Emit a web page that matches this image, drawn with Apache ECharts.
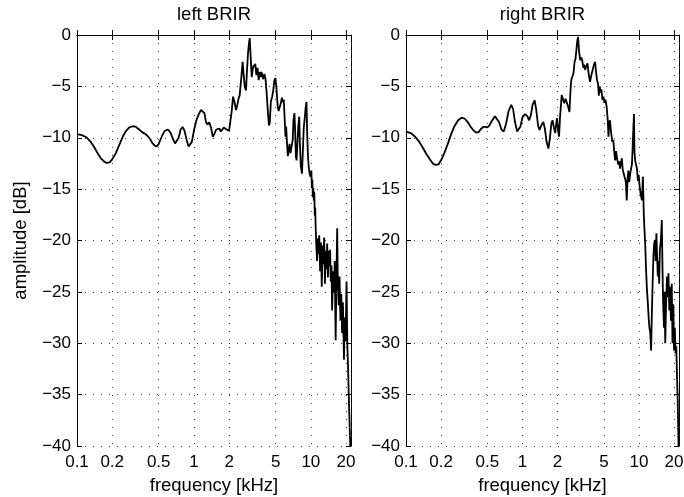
<!DOCTYPE html>
<html>
<head>
<meta charset="utf-8">
<script src="https://cdn.jsdelivr.net/npm/echarts@6/dist/echarts.min.js"></script>
<style>html,body{margin:0;padding:0;background:#fff}#c{width:684px;height:497px}</style>
</head>
<body>
<div id="c"></div>
<script>
var tickFreqs = [0.1, 0.2, 0.5, 1, 2, 5, 10, 20];
var tickLabels = ['0.1', '0.2', '0.5', '1', '2', '5', '10', '20'];
var freqMin = 0.1, freqMax = 22.05;
var dbMin = -40, dbMax = 0, dbStep = 5;
var titles = ['left BRIR', 'right BRIR'];

var leftFreq = [0.100,0.110,0.120,0.130,0.140,0.150,0.160,0.170,0.180,0.190,0.200,0.215,0.230,0.245,0.260,0.280,0.300,0.320,0.340,0.360,0.380,0.400,0.420,0.440,0.460,0.480,0.500,0.530,0.560,0.600,0.630,0.660,0.690,0.710,0.740,0.770,0.800,0.830,0.870,0.900,0.930,0.960,1.00,1.05,1.10,1.15,1.19,1.23,1.27,1.31,1.35,1.40,1.45,1.50,1.55,1.60,1.65,1.70,1.75,1.80,1.85,1.90,1.95,2.00,2.05,2.10,2.16,2.22,2.29,2.35,2.42,2.46,2.50,2.55,2.61,2.66,2.72,2.79,2.85,2.90,2.95,3.00,3.06,3.12,3.18,3.24,3.30,3.35,3.42,3.50,3.58,3.65,3.72,3.78,3.85,3.92,4.00,4.09,4.18,4.28,4.38,4.45,4.55,4.67,4.78,4.88,4.98,5.08,5.20,5.30,5.42,5.55,5.65,5.75,5.87,6.00,6.07,6.15,6.25,6.36,6.46,6.58,6.70,6.82,6.90,7.00,7.10,7.24,7.35,7.45,7.55,7.65,7.80,7.95,8.05,8.20,8.40,8.55,8.70,8.85,9.00,9.18,9.30,9.45,9.60,9.80,9.95,10.1,10.2,10.3,10.4,10.5,10.6,10.7,10.8,10.9,11.0,11.15,11.3,11.45,11.6,11.8,12.0,12.2,12.4,12.6,12.8,13.0,13.2,13.4,13.6,13.8,14.0,14.2,14.4,14.6,14.8,15.0,15.2,15.5,15.8,16.0,16.3,16.5,16.8,17.0,17.3,17.6,17.9,18.2,18.5,18.8,19.2,19.5,19.8,20.2,20.5,20.8,21.1,21.4,21.7,22.0];
var leftDb = [-9.65,-9.75,-9.95,-10.35,-10.9,-11.5,-12.0,-12.3,-12.45,-12.4,-12.1,-11.5,-10.7,-9.95,-9.4,-9.0,-8.88,-8.95,-9.2,-9.45,-9.6,-9.8,-10.1,-10.5,-10.75,-10.85,-10.6,-9.9,-9.35,-9.2,-9.5,-10.1,-10.55,-10.6,-10.0,-9.2,-8.95,-9.3,-10.3,-10.85,-10.95,-10.4,-9.3,-8.3,-7.7,-7.3,-7.2,-7.6,-8.5,-8.7,-8.5,-9.0,-9.9,-9.6,-9.2,-9.3,-9.1,-9.4,-9.2,-9.0,-8.9,-9.2,-9.1,-9.3,-9.2,-7.5,-6.0,-6.5,-7.3,-6.8,-6.1,-5.9,-5.8,-4.0,-2.6,-3.8,-5.0,-5.4,-3.2,-1.8,-0.9,-0.3,-2.2,-4.1,-3.4,-2.9,-3.1,-2.8,-3.9,-3.2,-4.4,-3.6,-4.1,-3.6,-3.5,-4.3,-3.8,-4.2,-5.5,-7.3,-8.8,-8.6,-6.5,-6.0,-5.3,-4.4,-4.2,-5.2,-6.9,-7.4,-7.3,-6.6,-6.1,-6.5,-6.3,-8.7,-9.9,-8.9,-10.5,-11.8,-11.2,-10.6,-11.5,-11.6,-11.4,-10.2,-8.3,-7.6,-9.5,-11.8,-12.2,-10.9,-9.0,-7.95,-10.4,-12.7,-13.5,-11.2,-9.0,-8.2,-7.2,-6.5,-9.5,-11.8,-12.9,-13.6,-13.8,-13.2,-14.9,-14.1,-15.8,-14.9,-16.1,-15.3,-17.6,-16.8,-18.8,-20.6,-22.0,-19.8,-21.3,-19.5,-23.0,-20.2,-24.5,-20.5,-22.3,-19.7,-24.2,-21.0,-22.8,-20.3,-23.6,-21.0,-22.5,-20.9,-24.0,-22.4,-26.8,-23.0,-25.0,-22.0,-29.7,-24.5,-18.8,-24.0,-26.3,-23.5,-27.8,-25.2,-29.0,-26.0,-31.6,-27.5,-29.8,-24.0,-30.0,-32.3,-35.0,-37.5,-39.7,-45.0];

var rightFreq = [0.100,0.110,0.120,0.130,0.140,0.150,0.160,0.170,0.180,0.190,0.200,0.215,0.230,0.245,0.260,0.280,0.300,0.320,0.340,0.360,0.380,0.400,0.420,0.440,0.460,0.480,0.500,0.520,0.550,0.580,0.600,0.630,0.660,0.690,0.720,0.760,0.800,0.830,0.860,0.900,0.920,0.960,1.00,1.05,1.10,1.14,1.18,1.22,1.27,1.31,1.36,1.40,1.45,1.51,1.56,1.61,1.67,1.72,1.77,1.81,1.86,1.91,1.95,1.98,2.02,2.06,2.10,2.17,2.22,2.28,2.34,2.40,2.47,2.53,2.58,2.62,2.68,2.74,2.80,2.85,2.90,2.95,3.00,3.06,3.13,3.20,3.27,3.33,3.38,3.45,3.53,3.61,3.70,3.80,3.90,4.00,4.10,4.20,4.28,4.36,4.45,4.52,4.60,4.68,4.76,4.85,4.95,5.05,5.15,5.28,5.40,5.47,5.55,5.63,5.75,5.90,6.02,6.13,6.24,6.36,6.50,6.65,6.78,6.87,7.00,7.12,7.25,7.40,7.58,7.72,7.85,7.98,8.10,8.25,8.40,8.55,8.70,8.85,9.05,9.15,9.30,9.45,9.60,9.80,9.95,10.1,10.3,10.6,10.8,11.0,11.15,11.3,11.5,11.7,11.9,12.1,12.3,12.5,12.7,12.9,13.1,13.3,13.5,13.7,13.9,14.1,14.3,14.5,14.7,14.9,15.1,15.4,15.7,15.9,16.1,16.4,16.6,16.8,17.1,17.4,17.7,17.9,18.2,18.5,18.8,19.1,19.4,19.7,20.0,20.3,20.6,20.9,21.2,21.5,21.8,22.05];
var rightDb = [-9.4,-9.55,-9.9,-10.4,-11.0,-11.6,-12.1,-12.5,-12.65,-12.6,-12.2,-11.4,-10.5,-9.6,-8.9,-8.3,-8.05,-8.15,-8.5,-8.95,-9.3,-9.5,-9.45,-9.15,-8.95,-8.95,-9.0,-8.8,-8.3,-7.9,-7.9,-8.5,-9.2,-9.4,-8.7,-7.4,-6.8,-7.2,-8.4,-9.4,-9.55,-8.9,-8.0,-7.7,-7.9,-8.3,-7.8,-6.8,-6.35,-7.2,-8.8,-9.25,-8.8,-8.45,-9.2,-10.4,-11.05,-10.0,-8.6,-8.3,-9.0,-9.55,-8.6,-8.1,-9.2,-9.9,-8.0,-5.85,-6.2,-6.65,-6.2,-6.35,-7.0,-7.5,-5.5,-4.4,-4.3,-3.7,-2.6,-2.3,-1.5,-0.6,-0.2,-1.6,-2.45,-2.2,-2.6,-3.2,-2.9,-3.4,-3.0,-2.75,-3.8,-4.55,-3.9,-3.4,-2.9,-2.6,-3.6,-4.4,-4.7,-5.9,-5.0,-5.6,-5.3,-6.3,-6.0,-6.6,-6.3,-7.0,-8.4,-9.9,-8.6,-8.3,-9.4,-10.4,-10.2,-11.4,-12.2,-11.3,-12.1,-12.6,-12.3,-13.0,-12.4,-12.0,-13.1,-13.5,-13.4,-14.3,-16.1,-14.0,-13.2,-14.3,-13.5,-13.0,-12.6,-10.5,-7.7,-11.5,-12.3,-12.4,-13.0,-14.2,-13.6,-14.6,-15.4,-16.1,-13.8,-17.5,-19.0,-20.3,-22.8,-24.8,-26.0,-27.5,-28.5,-29.0,-30.7,-27.0,-24.0,-21.5,-20.3,-19.95,-22.0,-19.3,-21.5,-23.5,-22.0,-24.2,-21.0,-20.0,-18.0,-22.5,-26.0,-28.5,-25.0,-30.0,-26.0,-23.5,-25.5,-23.2,-26.8,-24.5,-27.8,-24.2,-30.0,-26.2,-30.7,-28.5,-31.0,-30.3,-33.3,-35.5,-39.4,-44.0];

var FONT = 'Liberation Sans, Arial, Helvetica, sans-serif';

function xLabel(v) {
  var best = 0, bd = Infinity;
  for (var i = 0; i < tickFreqs.length; i++) {
    var d = Math.abs(Math.log(v) - Math.log(tickFreqs[i]));
    if (d < bd) { bd = d; best = i; }
  }
  return tickLabels[best];
}
function yLabel(v) { return String(v).replace('-', '\u2212'); }

var grids = [
  { left: 77, top: 35, width: 274, height: 411, outerBoundsMode: 'none', containLabel: false },
  { left: 406, top: 35, width: 273, height: 411, outerBoundsMode: 'none', containLabel: false }
];

var xAxes = [], yAxes = [], series = [];
var splitStyle = { show: true, lineStyle: { color: '#444', width: 1, type: [1, 7] } };
for (var g = 0; g < 2; g++) {
  xAxes.push({
    type: 'log', logBase: 10, gridIndex: g, position: 'bottom', min: freqMin, max: freqMax,
    axisLine: { show: true, lineStyle: { color: '#000', width: 1 } },
    axisTick: { show: true, inside: true, length: 5, customValues: tickFreqs, lineStyle: { color: '#000' } },
    axisLabel: { show: true, customValues: tickFreqs, formatter: xLabel, color: '#000', fontFamily: FONT, fontSize: 17, margin: 8 },
    splitLine: splitStyle, minorTick: { show: false }, minorSplitLine: { show: false },
    name: 'frequency [kHz]', nameLocation: 'middle', nameGap: 30, nameMoveOverlap: false,
    nameTextStyle: { color: '#000', fontFamily: FONT, fontSize: 18.5 }
  });
  xAxes.push({
    type: 'log', logBase: 10, gridIndex: g, position: 'top', min: freqMin, max: freqMax,
    axisLine: { show: true, lineStyle: { color: '#000', width: 1 } },
    axisTick: { show: true, inside: true, length: 5, customValues: tickFreqs, lineStyle: { color: '#000' } },
    axisLabel: { show: false },
    splitLine: { show: false },
    name: titles[g], nameLocation: 'middle', nameGap: 11, nameMoveOverlap: false,
    nameTextStyle: { color: '#000', fontFamily: FONT, fontSize: 18.5 }
  });
  yAxes.push({
    type: 'value', gridIndex: g, position: 'left', min: dbMin, max: dbMax, interval: dbStep,
    axisLine: { show: true, lineStyle: { color: '#000', width: 1 } },
    axisTick: { show: true, inside: true, length: 5, lineStyle: { color: '#000' } },
    axisLabel: { show: true, formatter: yLabel, color: '#000', fontFamily: FONT, fontSize: 17, margin: 6 },
    splitLine: splitStyle,
    name: g === 0 ? 'amplitude [dB]' : '', nameLocation: 'middle', nameGap: 47, nameMoveOverlap: false,
    nameTextStyle: { color: '#000', fontFamily: FONT, fontSize: 18.5 }
  });
  yAxes.push({
    type: 'value', gridIndex: g, position: 'right', min: dbMin, max: dbMax, interval: dbStep,
    axisLine: { show: true, lineStyle: { color: '#000', width: 1 } },
    axisTick: { show: true, inside: true, length: 5, lineStyle: { color: '#000' } },
    axisLabel: { show: false }, splitLine: { show: false }
  });
}

function pairs(fs, ds) { return fs.map(function (f, i) { return [f, ds[i]]; }); }

series.push({
  type: 'line', xAxisIndex: 0, yAxisIndex: 0, data: pairs(leftFreq, leftDb),
  showSymbol: false, symbol: 'none', clip: true,
  lineStyle: { color: '#000', width: 1.8 }
});
series.push({
  type: 'line', xAxisIndex: 2, yAxisIndex: 2, data: pairs(rightFreq, rightDb),
  showSymbol: false, symbol: 'none', clip: true,
  lineStyle: { color: '#000', width: 1.8 }
});

var chart = echarts.init(document.getElementById('c'), null, { renderer: 'canvas' });
chart.setOption({
  backgroundColor: '#fff',
  animation: false,
  grid: grids,
  xAxis: xAxes,
  yAxis: yAxes,
  series: series
});
</script>
</body>
</html>
